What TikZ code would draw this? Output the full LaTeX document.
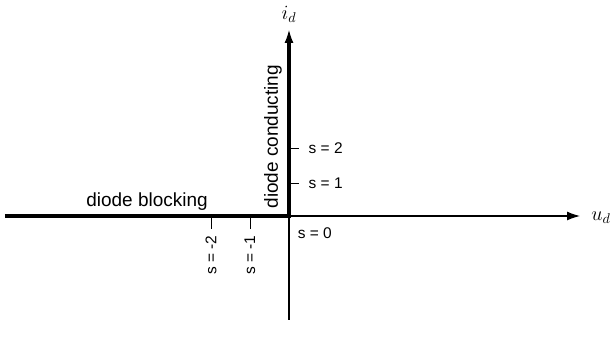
\documentclass[tikz,border=0pt]{standalone}
\usepackage{fontspec}
\usetikzlibrary{arrows.meta}
\newfontfamily\labelfont{Liberation Sans}

\begin{document}
\begin{tikzpicture}[
  axis/.style={line width=0.8pt, -{Latex[length=3.2mm,width=2.2mm]}},
  branch/.style={line width=2.2pt},
  tickmark/.style={line width=0.6pt},
  slabel/.style={font=\labelfont\fontsize{11}{13}\selectfont, inner sep=1pt},
  region/.style={font=\labelfont\fontsize{13.5}{15}\selectfont, inner sep=1pt},
  axlabel/.style={font=\fontsize{14}{16}\selectfont},
]
\useasboundingbox (-7.225,-3.325) rectangle (8.15,5.4);

% ---------- axes ----------
\coordinate (O) at (0,0);
\coordinate (xl) at (-7.1,0);
\coordinate (xr) at (7.275,0);
\coordinate (yb) at (0,-2.6);
\coordinate (yt) at (0,4.65);
\coordinate (yk) at (0,4.35);
\draw[axis] (O) -- (xr);
\draw[axis] (yb) -- (yt);
\node[axlabel] (ud) at (7.8,-0.05) {$u_d$};
\node[axlabel] (id) at (0,5.05) {$i_d$};

% ---------- ideal diode characteristic ----------
\draw[branch] (xl) -- (O) -- (yk);
\node[region, anchor=base] (blk) at (-3.55,0.225) {diode blocking};
\node[region, rotate=90] (cnd) at (-0.4,1.98) {diode conducting};

% ---------- s ticks ----------
\foreach \k/\y in {1/0.825, 2/1.7} {
  \coordinate (tl\k) at (0.05,\y);
  \coordinate (tr\k) at (0.25,\y);
  \draw[tickmark] (tl\k) -- (tr\k);
  \node[slabel, anchor=west] (sp\k) at (0.45,\y) {s = \k};
}
\foreach \k/\x in {1/-0.975, 2/-1.95} {
  \coordinate (tt\k) at (\x,-0.05);
  \coordinate (tb\k) at (\x,-0.325);
  \draw[tickmark] (tt\k) -- (tb\k);
  \node[slabel, rotate=90, anchor=east] (sm\k) at (\x,-0.45) {s = -\k};
}
\node[slabel, anchor=north west] (s0) at (0.18,-0.25) {s = 0};

\end{tikzpicture}
\end{document}
